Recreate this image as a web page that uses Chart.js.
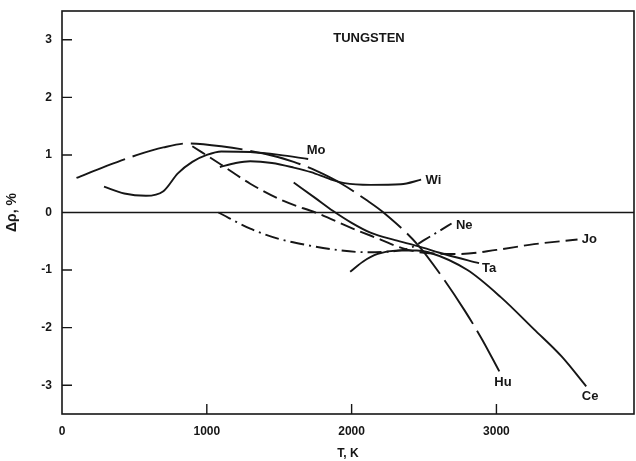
<!DOCTYPE html>
<html>
<head>
<meta charset="utf-8">
<script src="https://cdn.jsdelivr.net/npm/chart.js@4/dist/chart.umd.min.js"></script>
<style>
  html, body { margin: 0; padding: 0; background: #fff; }
  canvas { display: block; }
</style>
</head>
<body>
<canvas id="chart" width="636" height="461"></canvas>
<script>
// temperature (K) and resistivity deviation (%) for each author's curve
const moT  = [290, 430, 580, 700, 800, 900, 1000, 1100, 1300, 1500, 1700];
const moDR = [0.45, 0.33, 0.29, 0.37, 0.68, 0.88, 1.0, 1.06, 1.05, 1.0, 0.93];

const wiT  = [1090, 1200, 1300, 1450, 1600, 1720, 1850, 1950, 2130, 2340, 2480];
const wiDR = [0.79, 0.86, 0.89, 0.86, 0.78, 0.70, 0.58, 0.51, 0.48, 0.49, 0.57];

const huT  = [100, 300, 520, 700, 870, 1100, 1400, 1600, 1750, 1930, 2100, 2220, 2460, 2620, 2780, 2900, 3020];
const huDR = [0.6, 0.8, 1.0, 1.13, 1.2, 1.15, 1.02, 0.88, 0.73, 0.5, 0.22, 0.0, -0.57, -1.1, -1.7, -2.2, -2.76];

const joT  = [900, 1100, 1300, 1530, 1770, 2000, 2200, 2350, 2500, 2750, 3000, 3260, 3560];
const joDR = [1.15, 0.83, 0.5, 0.2, -0.02, -0.27, -0.47, -0.62, -0.70, -0.72, -0.65, -0.55, -0.47];

const neT  = [1080, 1300, 1500, 1700, 1900, 2100, 2300, 2420, 2500, 2600, 2690];
const neDR = [0.0, -0.28, -0.46, -0.57, -0.65, -0.69, -0.67, -0.60, -0.48, -0.33, -0.19];

const taT  = [1600, 1750, 1870, 2000, 2130, 2300, 2450, 2650, 2880];
const taDR = [0.52, 0.25, 0.03, -0.18, -0.35, -0.48, -0.58, -0.73, -0.88];

const ceT  = [1990, 2080, 2180, 2320, 2450, 2530, 2800, 3030, 3260, 3450, 3620];
const ceDR = [-1.03, -0.85, -0.72, -0.66, -0.66, -0.69, -1.0, -1.47, -2.03, -2.5, -3.02];

const xTicks = [0, 1000, 2000, 3000];
const yTicks = [-3, -2, -1, 0, 1, 2, 3];

// curve names written next to the lines, in data coordinates
const curveLabels = [
  { text: 'Mo', x: 1690, y: 1.07 },
  { text: 'Wi', x: 2510, y: 0.55 },
  { text: 'Ne', x: 2720, y: -0.22 },
  { text: 'Jo', x: 3590, y: -0.47 },
  { text: 'Ta', x: 2900, y: -0.97 },
  { text: 'Hu', x: 2985, y: -2.95 },
  { text: 'Ce', x: 3590, y: -3.2 }
];

const INK = '#161616';
const FAMILY = '"Liberation Sans", Arial, sans-serif';
const FONT = 'bold 13px ' + FAMILY;

function pts(xs, ys) {
  return xs.map((x, i) => ({ x: x, y: ys[i] }));
}

function curve(name, xs, ys, dash) {
  return {
    label: name,
    data: pts(xs, ys),
    showLine: true,
    borderColor: INK,
    borderWidth: 1.9,
    borderDash: dash,
    pointRadius: 0,
    fill: false,
    cubicInterpolationMode: 'monotone'
  };
}

// frame, zero line, inward tick marks and text labels
const decor = {
  id: 'decor',
  afterDatasetsDraw(chart) {
    const { ctx, chartArea: a, scales: { x, y } } = chart;
    ctx.save();
    ctx.strokeStyle = INK;
    ctx.lineWidth = 1.6;
    ctx.strokeRect(a.left, a.top, a.right - a.left, a.bottom - a.top);

    const y0 = y.getPixelForValue(0);
    ctx.lineWidth = 1.4;
    ctx.beginPath();
    ctx.moveTo(a.left, y0);
    ctx.lineTo(a.right, y0);
    ctx.stroke();

    ctx.beginPath();
    yTicks.filter(v => v !== 0).forEach(v => {
      const py = y.getPixelForValue(v);
      ctx.moveTo(a.left, py);
      ctx.lineTo(a.left + 10, py);
    });
    xTicks.filter(v => v !== 0).forEach(v => {
      const px = x.getPixelForValue(v);
      ctx.moveTo(px, a.bottom);
      ctx.lineTo(px, a.bottom - 10);
    });
    ctx.stroke();

    ctx.fillStyle = INK;
    ctx.font = FONT;
    ctx.textBaseline = 'middle';
    ctx.textAlign = 'left';
    curveLabels.forEach(l => {
      ctx.fillText(l.text, x.getPixelForValue(l.x), y.getPixelForValue(l.y));
    });

    ctx.textAlign = 'center';
    ctx.fillText('TUNGSTEN', x.getPixelForValue(2120), y.getPixelForValue(3.02));
    ctx.restore();
  }
};

const tickFont = { family: FAMILY, size: 12, weight: 'bold' };

new Chart(document.getElementById('chart'), {
  type: 'scatter',
  data: {
    datasets: [
      curve('Mo', moT, moDR, []),
      curve('Wi', wiT, wiDR, []),
      curve('Hu', huT, huDR, [52, 8]),
      curve('Jo', joT, joDR, [15, 6]),
      curve('Ne', neT, neDR, [14, 5, 2, 5]),
      curve('Ta', taT, taDR, []),
      curve('Ce', ceT, ceDR, [])
    ]
  },
  options: {
    responsive: false,
    animation: false,
    layout: { padding: { top: 11, right: 2, left: 0, bottom: 0 } },
    plugins: {
      legend: { display: false },
      tooltip: { enabled: false }
    },
    scales: {
      x: {
        type: 'linear',
        min: 0,
        max: 3950,
        afterBuildTicks: s => { s.ticks = xTicks.map(v => ({ value: v })); },
        afterFit: s => { s.height = 47; s.paddingLeft = 0; s.paddingRight = 0; },
        grid: { display: false, drawTicks: false },
        border: { display: false },
        ticks: { color: INK, font: tickFont, padding: 10, maxRotation: 0, callback: v => String(v) },
        title: {
          display: true,
          text: 'T, K',
          color: INK,
          font: tickFont,
          padding: { top: 2, bottom: 0 }
        }
      },
      y: {
        type: 'linear',
        min: -3.5,
        max: 3.5,
        afterBuildTicks: s => { s.ticks = yTicks.map(v => ({ value: v })); },
        afterFit: s => { s.width = 62; s.paddingTop = 0; s.paddingBottom = 0; },
        grid: { display: false, drawTicks: false },
        border: { display: false },
        ticks: { color: INK, font: tickFont, padding: 10, callback: v => String(v) },
        title: {
          display: true,
          text: 'Δρ, %',
          color: INK,
          font: { family: FAMILY, size: 14, weight: 'bold' },
          padding: { top: 4, bottom: 0 }
        }
      }
    }
  },
  plugins: [decor]
});
</script>
</body>
</html>
